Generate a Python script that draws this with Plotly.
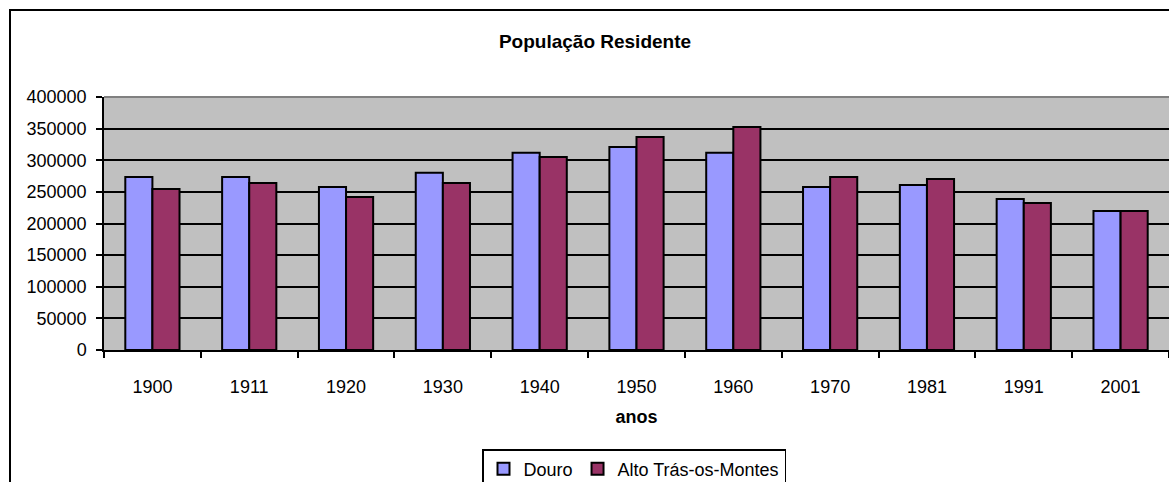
import plotly.graph_objects as go

anos = ["1900", "1911", "1920", "1930", "1940", "1950", "1960", "1970", "1981", "1991", "2001"]
douro = [273500, 273500, 257700, 280300, 312000, 321000, 312000, 257700, 260900, 238700, 219800]
alto_tras_os_montes = [254500, 264000, 241900, 264000, 305100, 336800, 352600, 273500, 270400, 232400, 219800]

W, H = 1169, 482
L, R, T, B = 104, 0, 97, 132
pw, ph = W - L - R, H - T - B

font = "Liberation Sans, Arial, sans-serif"
FS = 18

fig = go.Figure()
fig.add_trace(go.Bar(x=anos, y=douro, name="Douro",
                     marker=dict(color="#9999FF", line=dict(color="black", width=2))))
fig.add_trace(go.Bar(x=anos, y=alto_tras_os_montes, name="Alto Trás-os-Montes",
                     marker=dict(color="#993366", line=dict(color="black", width=2))))

fig.update_layout(
    width=W, height=H,
    margin=dict(l=L, r=R, t=T, b=B, pad=0, autoexpand=False),
    paper_bgcolor="white", plot_bgcolor="#C0C0C0",
    barmode="group", bargap=0.44, bargroupgap=0,
    font=dict(family=font, size=FS, color="black"),
    title=dict(text="<b>População Residente</b>", x=595 / W, xanchor="center",
               y=1 - 41 / H, yanchor="middle", font=dict(size=19)),
    showlegend=True,
    legend=dict(orientation="h", xref="container", x=634 / W, xanchor="center",
                yref="container", y=1 - 449 / H, yanchor="top",
                bordercolor="black", borderwidth=1.5, bgcolor="white",
                font=dict(size=FS), itemwidth=30, tracegroupgap=0),
    xaxis=dict(type="category", range=[-0.5, 10.5], showgrid=False,
               ticks="outside", tickson="boundaries", ticklen=6, tickwidth=1.5, tickcolor="black",
               showline=True, linecolor="black", linewidth=1.5,
               tickfont=dict(size=FS), ticklabelstandoff=20,
               title=dict(text="<b>anos</b>", font=dict(size=FS), standoff=14)),
    yaxis=dict(range=[0, 400000], dtick=50000, tickformat="d",
               showgrid=True, gridcolor="black", gridwidth=1.5,
               ticks="outside", ticklen=6, tickwidth=1.5, tickcolor="black",
               showline=True, linecolor="black", linewidth=1.5,
               tickfont=dict(size=FS), ticklabelstandoff=6, zeroline=False),
)

# outer chart border (left and top visible; right/bottom beyond window)
fig.add_shape(type="rect", xref="paper", yref="paper",
              x0=(10 - L) / pw, x1=(W + 20 - L) / pw,
              y0=(T + ph - (H + 20)) / ph, y1=(T + ph - 10) / ph,
              line=dict(color="black", width=2), fillcolor="rgba(0,0,0,0)", layer="below")
# grey top border of plot area
fig.add_shape(type="line", xref="paper", yref="paper", x0=0, x1=1, y0=1, y1=1,
              line=dict(color="#808080", width=2))

fig.write_html("out.html", config={"displayModeBar": False},
               post_script="document.body.style.margin='0';")
